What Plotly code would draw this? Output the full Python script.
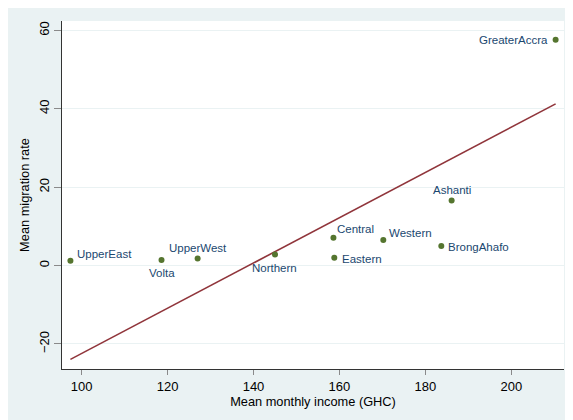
import plotly.graph_objects as go

regions = ["UpperEast", "Volta", "UpperWest", "Northern", "Central", "Eastern",
           "Western", "BrongAhafo", "Ashanti", "GreaterAccra"]
income = [97.4, 118.6, 127.0, 145.0, 158.6, 158.8, 170.2, 183.7, 186.1, 210.3]
migration = [1.2, 1.4, 1.8, 2.8, 7.1, 2.0, 6.5, 5.0, 16.6, 57.6]
# fitted line
fit_intercept = -80.2
fit_slope = 0.5775

# label placement (anchor, xshift, yshift in px)
label_pos = {
    "UpperEast": ("left", 5, 7),
    "Volta": ("center", 0, -13),
    "UpperWest": ("center", 0, 10),
    "Northern": ("center", 0, -13),
    "Central": ("left", 2, 9),
    "Eastern": ("left", 6, -1),
    "Western": ("left", 4, 7),
    "BrongAhafo": ("left", 5, -1),
    "Ashanti": ("center", 0, 10),
    "GreaterAccra": ("right", -6, 0),
}

BG = "#EAF2F3"
NAVY = "#1a476f"
font = "Liberation Sans, Arial, sans-serif"

fig = go.Figure()
xmin, xmax = min(income), max(income)
fig.add_trace(go.Scatter(
    x=[xmin, xmax], y=[fit_intercept + fit_slope * xmin, fit_intercept + fit_slope * xmax],
    mode="lines", line=dict(color="#90353B", width=1.6), hoverinfo="skip", showlegend=False))
fig.add_trace(go.Scatter(
    x=income, y=migration, mode="markers",
    marker=dict(color="#55752F", size=6), showlegend=False))

for r, xv, yv in zip(regions, income, migration):
    anc, dx, dy = label_pos[r]
    fig.add_annotation(x=xv, y=yv, text=r, showarrow=False, xanchor=anc, yanchor="middle",
                       xshift=dx, yshift=dy, font=dict(family=font, size=11.5, color=NAVY))

fig.update_layout(
    width=565, height=412,
    margin=dict(l=54, r=9, t=13, b=51),
    paper_bgcolor=BG, plot_bgcolor="white",
    font=dict(family=font, size=12, color="black"),
    xaxis=dict(range=[95.44, 212.25], tickvals=[100, 120, 140, 160, 180, 200], automargin=False,
               showgrid=False, zeroline=False, showline=True, linecolor="#333333", linewidth=1,
               ticks="outside", ticklen=5, tickcolor="#8a8a8a", tickfont=dict(size=13),
               title=dict(text="Mean monthly income (GHC)", font=dict(size=12.8), standoff=2)),
    yaxis=dict(range=[-26.4, 62.4], tickvals=[-20, 0, 20, 40, 60], tickangle=-90, automargin=False,
               showgrid=True, gridcolor=BG, gridwidth=1.2, zeroline=False,
               showline=True, linecolor="#333333", linewidth=1,
               ticks="outside", ticklen=7, tickcolor="#8a8a8a", tickfont=dict(size=13),
               title=dict(text="Mean migration rate", font=dict(size=12.8), standoff=4)),
)

fig.write_html("out.html")
